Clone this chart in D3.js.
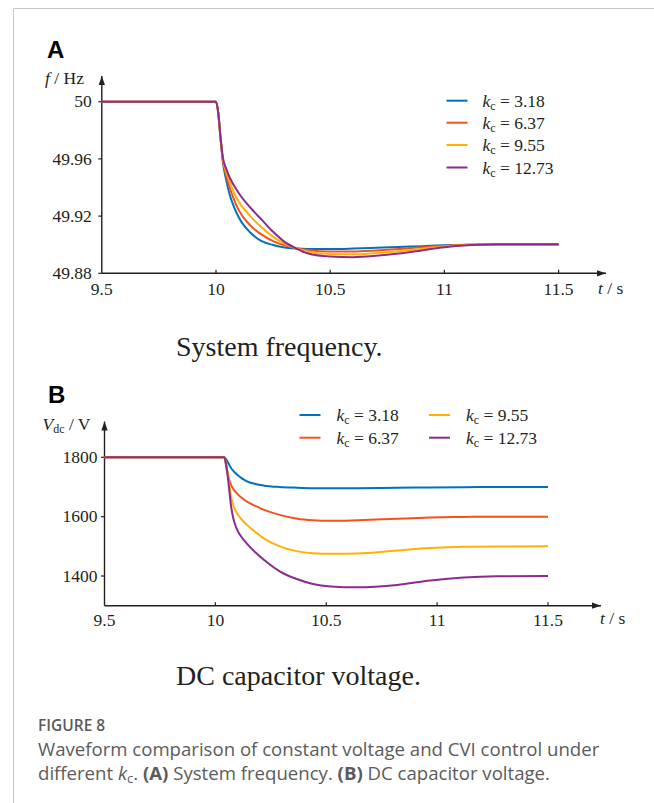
<!DOCTYPE html>
<html>
<head>
<meta charset="utf-8">
<script src="https://cdn.jsdelivr.net/npm/d3@7"></script>
<style>
  html, body { margin: 0; padding: 0; background: #fff; }
  svg { display: block; }
  .serif { font-family: "Liberation Serif", "Times New Roman", serif; fill: #231f20; }
  .cap   { font-family: "Open Sans", "Noto Sans", sans-serif; fill: #5b5b5b; }
</style>
</head>
<body>
<div id="chart"></div>
<script>
// ── Data ──────────────────────────────────────────────────────
const kcLabels = ["3.18", "6.37", "9.55", "12.73"];
const colors   = ["#0072bd", "#f4511e", "#ffb000", "#8b2a8f"];

// Panel A — system frequency (Hz)
const timeA = [9.5, 10.0, 10.01, 10.02, 10.03, 10.045, 10.06, 10.08, 10.1, 10.15, 10.2, 10.25,
               10.3, 10.35, 10.4, 10.5, 10.6, 10.7, 10.8, 10.9, 11.0, 11.1, 11.2, 11.3, 11.5];
const freqKc1 = [50, 50, 49.992, 49.974, 49.958, 49.945, 49.935, 49.926, 49.919, 49.9085, 49.9025, 49.8998,
                 49.898, 49.8973, 49.897, 49.897, 49.8973, 49.8978, 49.8984, 49.899, 49.8996, 49.9, 49.9002, 49.9002, 49.9002];
const freqKc2 = [50, 50, 49.992, 49.974, 49.959, 49.948, 49.940, 49.931, 49.924, 49.9135, 49.907, 49.9025,
                 49.8995, 49.8975, 49.8963, 49.8952, 49.8953, 49.896, 49.897, 49.8982, 49.8993, 49.9, 49.9002, 49.9002, 49.9002];
const freqKc3 = [50, 50, 49.992, 49.975, 49.960, 49.951, 49.944, 49.936, 49.930, 49.920, 49.912, 49.9055,
                 49.9008, 49.8975, 49.8953, 49.8935, 49.8933, 49.8942, 49.8955, 49.8972, 49.8988, 49.8998, 49.9002, 49.9002, 49.9002];
const freqKc4 = [50, 50, 49.992, 49.975, 49.961, 49.953, 49.947, 49.941, 49.936, 49.926, 49.9175, 49.909,
                 49.902, 49.8975, 49.894, 49.8917, 49.8913, 49.8922, 49.8938, 49.896, 49.8982, 49.8996, 49.9002, 49.9003, 49.9003];
const freqTicks = [50, 49.96, 49.92, 49.88];

// Panel B — DC capacitor voltage (V)
const timeB = [9.5, 10.04, 10.05, 10.06, 10.07, 10.08, 10.09, 10.1, 10.12, 10.14, 10.18, 10.22,
               10.29, 10.37, 10.44, 10.52, 10.64, 10.82, 10.97, 11.12, 11.27, 11.5];
const vdcKc1 = [1800, 1800, 1792, 1778, 1765, 1755, 1747, 1740, 1729, 1720, 1710, 1704.5,
                1700, 1697.5, 1696, 1695.5, 1696, 1697.5, 1698.5, 1699.3, 1699.7, 1700];
const vdcKc2 = [1800, 1800, 1765, 1731, 1708, 1694, 1684, 1676, 1663, 1652, 1636, 1623,
                1606, 1593, 1588, 1586, 1588, 1593, 1597, 1599, 1600, 1600];
const vdcKc3 = [1800, 1800, 1772, 1722, 1670, 1640, 1621, 1608, 1589, 1574, 1548, 1526,
                1500, 1483, 1477, 1475, 1476, 1486, 1494, 1498.5, 1499.7, 1500];
const vdcKc4 = [1800, 1800, 1768, 1708, 1640, 1597, 1571, 1553, 1529, 1511, 1480, 1454,
                1416, 1389, 1373, 1365, 1362, 1370, 1385, 1395, 1399, 1400];
const vdcTicks = [1800, 1600, 1400];

const timeTicks = [9.5, 10, 10.5, 11, 11.5];

// ── Scaffold ──────────────────────────────────────────────────
const W = 654, H = 803;
const svg = d3.select("#chart").append("svg")
  .attr("width", W).attr("height", H);

svg.append("rect").attr("width", W).attr("height", H).attr("fill", "#fff");

// figure frame (only top and left edges visible)
svg.append("path")
  .attr("d", `M13.5,${H} V8.5 H${W}`)
  .attr("fill", "none").attr("stroke", "#c9c9c9").attr("stroke-width", 1);

svg.append("defs").append("marker")
    .attr("id", "arrow")
    .attr("viewBox", "0 0 10 10")
    .attr("refX", 10).attr("refY", 5)
    .attr("markerWidth", 9).attr("markerHeight", 9)
    .attr("markerUnits", "userSpaceOnUse")
    .attr("orient", "auto")
  .append("path")
    .attr("d", "M0,1.5 L10,5 L0,8.5 Z")
    .attr("fill", "#231f20");

// ── Panel builder ─────────────────────────────────────────────
function drawPanel(cfg) {
  const x = d3.scaleLinear().domain([9.5, 11.5]).range(cfg.xRange);
  const y = d3.scaleLinear().domain(cfg.yDomain).range(cfg.yRange);
  const g = svg.append("g");
  const x0 = x(9.5), yBase = y(cfg.yDomain[0]);

  // axes with arrows
  g.append("line")
    .attr("x1", x0).attr("y1", yBase).attr("x2", cfg.xArrow).attr("y2", yBase)
    .attr("stroke", "#231f20").attr("stroke-width", 1.4).attr("marker-end", "url(#arrow)");
  g.append("line")
    .attr("x1", x0).attr("y1", yBase).attr("x2", x0).attr("y2", cfg.yArrow)
    .attr("stroke", "#231f20").attr("stroke-width", 1.4).attr("marker-end", "url(#arrow)");

  // x ticks (inward) + labels
  g.selectAll(".xt").data(timeTicks.slice(1)).join("line")
    .attr("x1", d => x(d)).attr("x2", d => x(d))
    .attr("y1", yBase).attr("y2", yBase - 3.5)
    .attr("stroke", "#231f20").attr("stroke-width", 1.2);
  g.selectAll(".xl").data(timeTicks).join("text")
    .attr("class", "serif")
    .attr("x", d => x(d)).attr("y", yBase + cfg.xLabelDy)
    .attr("text-anchor", "middle").attr("font-size", 17.5)
    .text(d => d);

  // y ticks (outward) + labels
  g.selectAll(".yt").data(cfg.yTicks).join("line")
    .attr("x1", x0).attr("x2", x0 - 3.5)
    .attr("y1", d => y(d)).attr("y2", d => y(d))
    .attr("stroke", "#231f20").attr("stroke-width", 1.2);
  g.selectAll(".yl").data(cfg.yTicks).join("text")
    .attr("class", "serif")
    .attr("x", x0 - cfg.yLabelGap).attr("y", d => y(d)).attr("dy", "0.32em")
    .attr("text-anchor", "end").attr("font-size", 17.5)
    .text(d => d);

  // t / s
  const tl = g.append("text").attr("class", "serif")
    .attr("x", cfg.tLabel[0]).attr("y", cfg.tLabel[1]).attr("font-size", 17.5);
  tl.append("tspan").attr("font-style", "italic").text("t");
  tl.append("tspan").text(" / s");

  // y title
  cfg.yTitle(g);

  // series
  const line = d3.line()
    .x(d => x(d[0])).y(d => y(d[1]))
    .curve(d3.curveMonotoneX);
  cfg.series.forEach((vals, i) => {
    g.append("path")
      .datum(cfg.time.map((t, j) => [t, vals[j]]))
      .attr("fill", "none")
      .attr("stroke", colors[i])
      .attr("stroke-width", 2)
      .attr("stroke-linejoin", "round")
      .attr("d", line);
  });

  // legend
  cfg.legendPos.forEach((p, i) => {
    g.append("line")
      .attr("x1", p[0]).attr("x2", p[0] + 21).attr("y1", p[1]).attr("y2", p[1])
      .attr("stroke", colors[i]).attr("stroke-width", 2);
    const t = g.append("text").attr("class", "serif")
      .attr("x", p[0] + cfg.legendTextDx).attr("y", p[1] + 6).attr("font-size", 17.5);
    t.append("tspan").attr("font-style", "italic").text("k");
    t.append("tspan").attr("font-size", 12).attr("dy", 3).text("c");
    t.append("tspan").attr("dy", -3).text(" = " + kcLabels[i]);
  });

  // panel letter
  svg.append("text")
    .attr("x", cfg.letter[0]).attr("y", cfg.letter[1])
    .attr("font-family", "'Liberation Sans', Arial, sans-serif")
    .attr("font-weight", "bold").attr("font-size", 24).attr("fill", "#000")
    .text(cfg.letterText);

  // sub caption
  svg.append("text").attr("class", "serif")
    .attr("x", 176).attr("y", cfg.subY).attr("font-size", 28)
    .text(cfg.subText);
}

drawPanel({
  time: timeA,
  series: [freqKc1, freqKc2, freqKc3, freqKc4],
  xRange: [101.8, 558.6],
  yDomain: [49.88, 50],
  yRange: [273.3, 101.7],
  yTicks: freqTicks,
  xArrow: 606, yArrow: 76,
  xLabelDy: 22, yLabelGap: 10,
  tLabel: [598, 294],
  yTitle: g => {
    const t = g.append("text").attr("class", "serif")
      .attr("x", 45).attr("y", 84).attr("font-size", 17.5);
    t.append("tspan").attr("font-style", "italic").text("f");
    t.append("tspan").text(" / Hz");
  },
  legendPos: [[446.5, 100.7], [446.5, 122.7], [446.5, 145], [446.5, 167.5]],
  legendTextDx: 36,
  letter: [47, 57.5], letterText: "A",
  subY: 356, subText: "System frequency."
});

drawPanel({
  time: timeB,
  series: [vdcKc1, vdcKc2, vdcKc3, vdcKc4],
  xRange: [104.5, 548],
  yDomain: [1300, 1800],
  yRange: [605.7, 457.3],
  yTicks: vdcTicks,
  xArrow: 601, yArrow: 421.5,
  xLabelDy: 20.5, yLabelGap: 7,
  tLabel: [600, 624],
  yTitle: g => {
    const t = g.append("text").attr("class", "serif")
      .attr("x", 42.5).attr("y", 430).attr("font-size", 17.5);
    t.append("tspan").attr("font-style", "italic").text("V");
    t.append("tspan").attr("font-size", 12).attr("dy", 3).text("dc");
    t.append("tspan").attr("dy", -3).text(" / V");
  },
  legendPos: [[299.5, 415], [299.5, 437.7], [429, 415], [429, 437.7]],
  legendTextDx: 37,
  letter: [48, 402.5], letterText: "B",
  subY: 685, subText: "DC capacitor voltage."
});

// ── Figure caption ────────────────────────────────────────────
svg.append("text").attr("class", "cap")
  .attr("x", 38).attr("y", 731).attr("font-size", 15.5).attr("font-weight", 600)
  .attr("fill", "#555")
  .text("FIGURE 8");
svg.append("text").attr("class", "cap")
  .attr("x", 38).attr("y", 756).attr("font-size", 18.6)
  .text("Waveform comparison of constant voltage and CVI control under");
const c2 = svg.append("text").attr("class", "cap")
  .attr("x", 38).attr("y", 780).attr("font-size", 18.6);
c2.append("tspan").text("different ");
c2.append("tspan").attr("font-style", "italic").text("k");
c2.append("tspan").attr("font-size", 13).attr("dy", 3).text("c");
c2.append("tspan").attr("dy", -3).text(". ");
c2.append("tspan").attr("font-weight", 700).text("(A)");
c2.append("tspan").text(" System frequency. ");
c2.append("tspan").attr("font-weight", 700).text("(B)");
c2.append("tspan").text(" DC capacitor voltage.");
</script>
</body>
</html>
